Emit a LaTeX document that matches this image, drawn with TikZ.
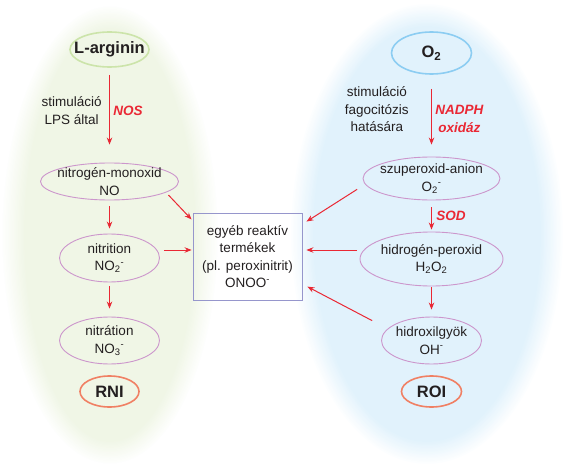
\documentclass[tikz,border=0pt]{standalone}
\usepackage{fontspec}
\setmainfont{Liberation Sans}
\usepackage{xcolor}
\usetikzlibrary{shapes.geometric, positioning, arrows.meta}
\definecolor{bggreen}{RGB}{240,246,230}
\definecolor{bgblue}{RGB}{225,242,252}
\definecolor{arrred}{RGB}{234,40,52}
\definecolor{ovalline}{RGB}{204,150,204}
\definecolor{boxline}{RGB}{150,150,204}
\definecolor{titlegreen}{RGB}{204,228,170}
\definecolor{titleblue}{RGB}{140,205,242}
\definecolor{groupline}{RGB}{240,128,100}
\definecolor{textgray}{RGB}{35,31,32}
\tikzset{
>={Stealth[length=7pt,width=5.5pt]}, % small sharp arrow heads
every node/.style={text=textgray, font=\fontsize{13.5}{17.5}\selectfont}, % plain labels
oval/.style={ellipse, draw=ovalline, line width=0.9pt, inner xsep=-10pt, inner ysep=-4pt, align=center}, % the compounds
title/.style={ellipse, line width=1.6pt, inner xsep=-12pt, inner ysep=0pt, font=\fontsize{16.5}{18}\selectfont\bfseries}, % start and group names
arr/.style={draw=arrred, line width=1pt, every edge/.append style={->}}, % the red reactions
enzyme/.style={text=arrred, align=center, font=\fontsize{13.5}{17.5}\selectfont\bfseries\itshape}, % enzyme names
}

\begin{document}
\begin{tikzpicture}[x=1pt, y=-1pt]
        \useasboundingbox (0,0) rectangle (570,468);
        % soft backgrounds
        \foreach \k in {0,...,19}
        {
            \pgfmathtruncatemacro{\p}{5*(\k+1)}
            \fill[bggreen!\p!white] (110,235) ellipse [x radius={(108-1.2*\k)*1pt}, y radius={(229-1.2*\k)*1pt}];
            \fill[bgblue!\p!white] (427,234) ellipse [x radius={(136-1.2*\k)*1pt}, y radius={(230-1.2*\k)*1pt}];
        }

        \node[title, draw=titlegreen, minimum width=79pt, minimum height=35pt] (arg) at (109.5,49.5) {L-arginin};
        \node[oval, below of=arg, node distance=132pt, minimum width=138pt, minimum height=37pt] (no) {nitrogén-monoxid\\NO};
        \node[oval, below of=no, node distance=76.5pt, minimum width=100pt, minimum height=48pt] (nitrit) {nitrition\\NO\textsubscript{2}\textsuperscript{-}};
        \node[oval, below of=nitrit, node distance=82.5pt, minimum width=100pt, minimum height=47pt] (nitrat) {nitrátion\\NO\textsubscript{3}\textsuperscript{-}};
        \node[title, draw=groupline, below of=nitrat, node distance=51pt, minimum width=59pt, minimum height=31pt] (rni) {RNI};

        \node[title, draw=titleblue, minimum width=80pt, minimum height=42pt] (o2) at (431.5,53) {O\textsubscript{2}};
        \node[oval, below of=o2, node distance=125.5pt, minimum width=137pt, minimum height=43pt] (szup) {szuperoxid-anion\\O\textsubscript{2}\textsuperscript{-}};
        \node[oval, below of=szup, node distance=80.5pt, minimum width=143pt, minimum height=54pt] (hp) {hidrogén-peroxid\\H\textsubscript{2}O\textsubscript{2}};
        \node[oval, below of=hp, node distance=81.5pt, minimum width=100pt, minimum height=47pt] (oh) {hidroxilgyök\\OH\textsuperscript{-}};
        \node[title, draw=groupline, below of=oh, node distance=51pt, minimum width=60pt, minimum height=31pt] (roi) {ROI};

        \node[draw=boxline, line width=0.9pt, minimum width=109pt, minimum height=87pt, align=center] (egyeb) at (247.5,256.5) {egyéb reaktív\\termékek\\(pl. peroxinitrit)\\ONOO\textsuperscript{-}};

        \draw[arr] (arg) edge[shorten <=7pt, shorten >=18pt] node[pos=0.45, left=4pt, align=center]{stimuláció\\LPS által} node[pos=0.45, right, enzyme]{NOS} (no)
              (no) edge[shorten <=6pt, shorten >=5pt] (nitrit)
              (nitrit) edge[shorten <=4pt, shorten >=8pt] (nitrat)
              (no.-11) edge[shorten <=3.5pt, shorten >=1.5pt] ([yshift=-8pt]egyeb.north west)
              ([yshift=8pt]nitrit.east) edge[shorten <=4pt, shorten >=1pt] ([yshift=8pt]nitrit.east -| egyeb.west)
              (o2) edge[shorten <=14pt, shorten >=12pt] node[pos=0.42, left=19pt, align=center]{stimuláció\\fagocitózis\\hatására} node[pos=0.54, right, enzyme]{NADPH\\oxidáz} (szup)
              (szup) edge[shorten <=7pt, shorten >=2pt] node[right=1pt, enzyme]{SOD} (hp)
              (hp) edge[shorten <=1pt, shorten >=7pt] (oh)
              (szup.185) edge[shorten <=9.4pt, shorten >=4.8pt] ([yshift=-11.6pt]egyeb.north east)
              ([yshift=9pt]hp.west) edge[shorten <=2.5pt, shorten >=4pt] ([yshift=9pt]hp.west -| egyeb.east)
              (oh.165) edge[shorten <=17.4pt, shorten >=5.6pt] ([yshift=-71.5pt]egyeb.north east);
    \end{tikzpicture}
\end{document}
